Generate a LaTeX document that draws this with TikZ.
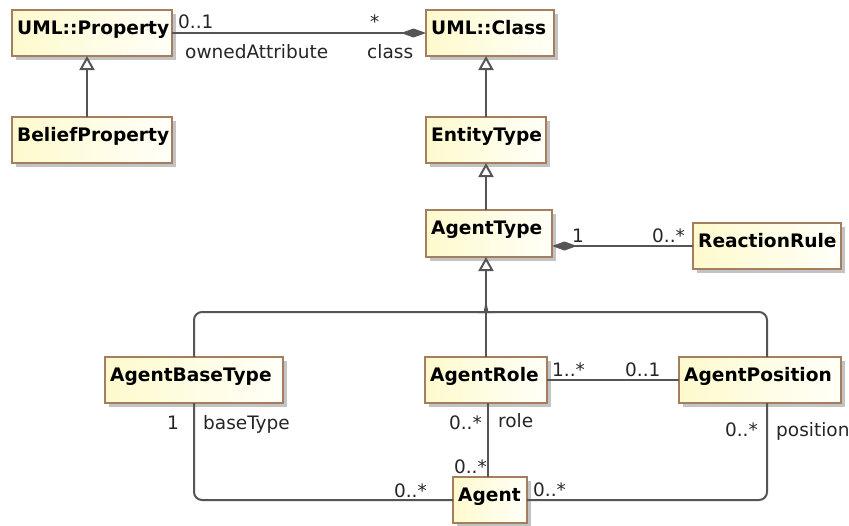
\documentclass[tikz,border=0pt]{standalone}
\usepackage{fontspec}
\setmainfont{DejaVu Sans}
\usetikzlibrary{arrows.meta}
\definecolor{bordc}{RGB}{165,125,95}
\definecolor{fillA}{RGB}{254,250,205}
\definecolor{fillB}{RGB}{255,255,248}
\definecolor{shadowc}{RGB}{195,195,195}
\definecolor{linec}{RGB}{85,85,85}
\newcommand\umlcls[6]{%
  \fill[shadowc] (#2+4,#3+4) rectangle ++(#4,#5);
  \node[clsbox, minimum width=#4pt, minimum height=#5pt] (#1) at (#2,#3) {};
  \node[clsname] (#1t) at ([xshift=5pt,yshift=-24pt]#1.north west) {#6};
}
\begin{document}
\begin{tikzpicture}[x=1pt,y=-1pt,
  clsbox/.style={draw=bordc, line width=1.3pt, left color=fillA, right color=fillB, anchor=north west, inner sep=0pt, outer sep=0pt},
  clsname/.style={anchor=base west, inner sep=0pt, font=\fontsize{18.6}{21}\selectfont\bfseries},
  lbl/.style={inner sep=0pt, font=\fontsize{18.5}{21}\selectfont, text=black!85},
  conn/.style={draw=linec, line width=2pt},
  gen/.style={conn, -{Triangle[open, length=14pt, width=15pt, fill=white]}},
  comp/.style={conn, {Diamond[length=25pt, width=9pt, fill=linec]}-}
]
\useasboundingbox (0,0) rectangle (849,525);
\fill[white] (0,0) rectangle (849,525);

\umlcls{prop}{12}{10}{160}{46}{UML::Property}
\umlcls{belief}{12}{117}{160}{46}{BeliefProperty}
\umlcls{cls}{426}{10}{128}{46}{UML::Class}
\umlcls{entity}{426}{117}{120}{46}{EntityType}
\umlcls{agenttype}{426}{210}{126}{47}{AgentType}
\umlcls{reaction}{693}{223}{148}{46}{ReactionRule}
\umlcls{basetype}{105}{357}{178}{46}{AgentBaseType}
\umlcls{role}{425}{357}{122}{46}{AgentRole}
\umlcls{position}{679}{357}{162}{46}{AgentPosition}
\umlcls{agent}{453}{477}{74}{46}{Agent}

% property - class composition
\draw[comp] (cls.west) -- (prop.east);
\node[lbl, anchor=base west] (l1) at (178,28) {0..1};
\node[lbl, anchor=base west] (l2) at (370,28) {*};
\node[lbl, anchor=base west] (l3) at (185,58) {ownedAttribute};
\node[lbl, anchor=base west] (l4) at (367,58) {class};

% generalizations
\draw[gen] ([xshift=-5pt]belief.north) -- ([xshift=-5pt]belief.north |- prop.south);
\draw[gen] (entity.north) -- (entity.north |- cls.south);
\draw[gen] (entity.south -| role.north) ++(0,47) -- (entity.south -| role.north);

% agenttype - reactionrule composition
\draw[comp] (agenttype.east |- reaction.west) -- (reaction.west);
\node[lbl, anchor=base west] (l5) at (572,242) {1};
\node[lbl, anchor=base west] (l6) at (652,242) {0..*};

% generalization tree
\coordinate (j) at (486,312);
\draw[gen] (role.north) -- (role.north |- agenttype.south);
\draw[conn, rounded corners=8] (basetype.north) -- (basetype.north |- j) -- ([xshift=-7pt]j) to[out=0,in=-90] ([yshift=7pt]j);
\draw[conn, rounded corners=8] ([xshift=7pt]position.north) -- ([xshift=7pt]position.north |- j) -- ([xshift=7pt]j) to[out=180,in=-90] ([yshift=7pt]j);

% role - position
\draw[conn] (role.east) -- (position.west);
\node[lbl, anchor=base west] (l7) at (552,376) {1..*};
\node[lbl, anchor=base west] (l8) at (625,376) {0..1};

% role - agent
\draw[conn] ([xshift=2pt]role.south) -- ([xshift=2pt]role.south |- agent.north);
\node[lbl, anchor=base east] (l9) at (482,429) {0..*};
\node[lbl, anchor=base west] (l10) at (498,427) {role};
\node[lbl, anchor=base east] (l11) at (487,473) {0..*};

% basetype - agent
\draw[conn, rounded corners=8] (basetype.south) -- (basetype.south |- agent.west) -- (agent.west);
\node[lbl, anchor=base east] (l12) at (179,429) {1};
\node[lbl, anchor=base west] (l13) at (203,429) {baseType};
\node[lbl, anchor=base east] (l14) at (427,497) {0..*};

% position - agent
\draw[conn, rounded corners=8] ([xshift=7pt]position.south) -- ([xshift=7pt]position.south |- agent.east) -- (agent.east);
\node[lbl, anchor=base east] (l15) at (758,436) {0..*};
\node[lbl, anchor=base west] (l16) at (776,436) {position};
\node[lbl, anchor=base west] (l17) at (533,496) {0..*};
\end{tikzpicture}
\end{document}
